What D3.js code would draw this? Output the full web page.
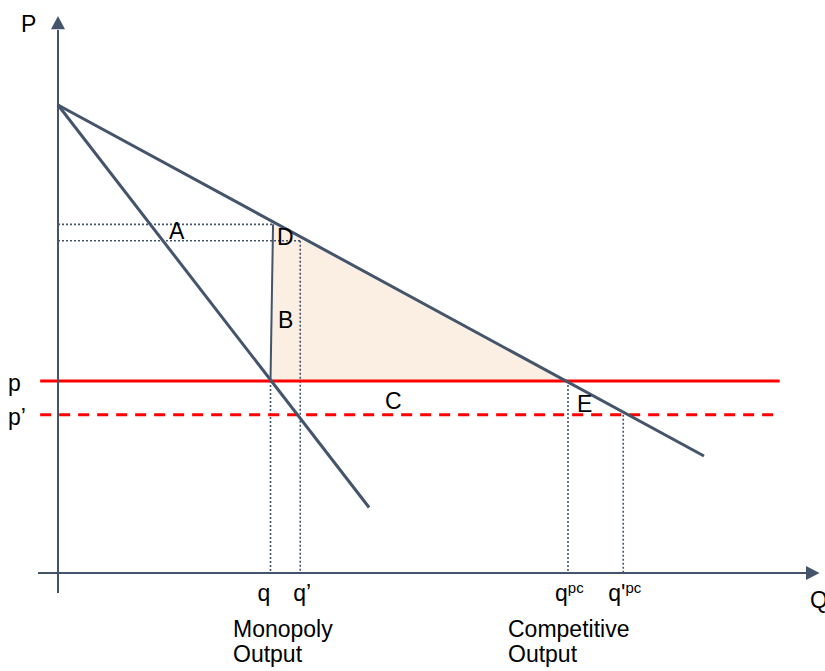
<!DOCTYPE html>
<html>
<head>
<meta charset="utf-8">
<script src="https://cdn.jsdelivr.net/npm/d3@7"></script>
<style>
  body { margin: 0; background: #fff; }
  text { font-family: "Liberation Sans", Arial, sans-serif; fill: #000; }
</style>
</head>
<body>
<svg id="chart"></svg>
<script>
// data, in price (P) / quantity (Q) units
const demand = [[0, 100], [76, 25]];
const marginalRevenue = [[0, 100], [36.6, 14]];
const priceNames = ["p", "p\u2019"];
const priceValues = [41, 33.8];
const qNames = ["q", "q\u2019", "q", "q'"];
const qSups = ["", "", "pc", "pc"];
const qValues = [25, 28.5, 60, 66.5];
const qTops = [41, 71, 41, 33.8];
const monoPriceValues = [74.5, 71];
const monoPriceEnds = [25.3, 28.5];
const deadweight = [[25, 41], [25.3, 74.5], [60, 41]];

const lineColor = "#44546a";
const width = 825, height = 671;

const svg = d3.select("#chart")
    .attr("width", width)
    .attr("height", height);

const x = d3.scaleLinear().domain([0, 100]).range([58, 908]);
const y = d3.scaleLinear().domain([0, 100]).range([573, 105]);
const line = d3.line().x(d => x(d[0])).y(d => y(d[1]));

// shaded triangle B
svg.append("path")
    .attr("d", line(deadweight) + "Z")
    .attr("fill", "#fbefe3");

// dotted guide lines
monoPriceValues.forEach((p, i) => {
    svg.append("line")
        .attr("x1", x(0)).attr("x2", x(monoPriceEnds[i]))
        .attr("y1", y(p)).attr("y2", y(p))
        .attr("stroke", lineColor).attr("stroke-width", 1.6)
        .attr("stroke-dasharray", "2,2");
});
qValues.forEach((q, i) => {
    svg.append("line")
        .attr("x1", x(q)).attr("x2", x(q))
        .attr("y1", y(qTops[i])).attr("y2", y(0))
        .attr("stroke", lineColor).attr("stroke-width", 1.6)
        .attr("stroke-dasharray", "2,2");
});

// price lines
svg.append("line")
    .attr("x1", x(-2.1)).attr("x2", x(84.9))
    .attr("y1", y(priceValues[0])).attr("y2", y(priceValues[0]))
    .attr("stroke", "#ff0000").attr("stroke-width", 3);
svg.append("line")
    .attr("x1", x(-2.1)).attr("x2", x(84.9))
    .attr("y1", y(priceValues[1])).attr("y2", y(priceValues[1]))
    .attr("stroke", "#ff0000").attr("stroke-width", 3)
    .attr("stroke-dasharray", "11,8");

// monopoly quantity edge of B
svg.append("path")
    .attr("d", line([deadweight[0], deadweight[1]]))
    .attr("stroke", lineColor).attr("stroke-width", 2).attr("fill", "none");

// demand & MR
[demand, marginalRevenue].forEach(d => {
    svg.append("path")
        .attr("d", line(d))
        .attr("stroke", lineColor).attr("stroke-width", 3)
        .attr("fill", "none");
});

// axes with arrow heads
svg.append("line")
    .attr("x1", x(0)).attr("x2", x(0))
    .attr("y1", y(-4.3)).attr("y2", y(116))
    .attr("stroke", lineColor).attr("stroke-width", 2);
svg.append("path")
    .attr("d", `M${x(0)},${y(119)} L${x(0) - 7},${y(116.2)} L${x(0) + 7},${y(116.2)} Z`)
    .attr("fill", lineColor);
svg.append("line")
    .attr("x1", x(-2.35)).attr("x2", x(88))
    .attr("y1", y(0)).attr("y2", y(0))
    .attr("stroke", lineColor).attr("stroke-width", 2);
svg.append("path")
    .attr("d", `M${x(89.6)},${y(0)} L${x(88)},${y(0) - 7} L${x(88)},${y(0) + 7} Z`)
    .attr("fill", lineColor);

// text
const fs = 23;
function label(t, px, py, anchor) {
    return svg.append("text")
        .attr("x", px).attr("y", py)
        .attr("font-size", fs)
        .attr("text-anchor", anchor || "start")
        .text(t);
}
label("P", 21, 32);
label("Q", 810, 608);
label("A", 169, 239);
label("D", 277, 245);
label("B", 278, 328);
label("C", 385, 409);
label("E", 577, 412);

priceNames.forEach((n, i) => label(n, 8, y(priceValues[i]) + 10));

const qOffsets = [-13, -7, -13, -15];
qNames.forEach((n, i) => {
    const t = label(n, x(qValues[i]) + qOffsets[i], 601);
    if (qSups[i]) {
        t.append("tspan")
            .attr("font-size", 15)
            .attr("dy", -8)
            .text(qSups[i]);
    }
});

label("Monopoly", 233, 637);
label("Output", 233, 662);
label("Competitive", 508, 637);
label("Output", 508, 662);
</script>
</body>
</html>
